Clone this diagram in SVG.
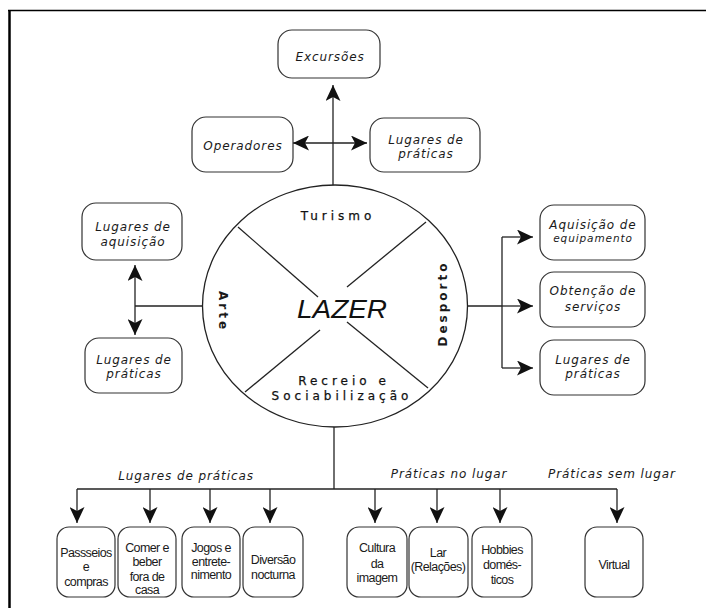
<svg xmlns="http://www.w3.org/2000/svg" width="706" height="608" viewBox="0 0 706 608">
  <style>
    .frame { stroke: #000; fill: none; }
    .box { fill: #fff; stroke: #333; stroke-width: 1.2; }
    .line { fill: none; stroke: #222; stroke-width: 1.3; }
    .it { font-family: "DejaVu Sans", Verdana, sans-serif; font-style: oblique; font-size: 12px; letter-spacing: 0.9px; fill: #1a1a1a; text-anchor: middle; }
    .sec { font-family: "DejaVu Sans", Verdana, sans-serif; font-size: 12px; letter-spacing: 4px; fill: #111; stroke: #111; stroke-width: 0.25; text-anchor: middle; }
    .secb { font-family: "DejaVu Sans", Verdana, sans-serif; font-weight: bold; font-size: 12px; letter-spacing: 3px; fill: #1a1a1a; text-anchor: middle; }
    .sm { font-family: "Liberation Sans", Arial, sans-serif; font-size: 12.5px; letter-spacing: -0.6px; fill: #1a1a1a; text-anchor: middle; }
    .core { font-family: "Liberation Sans", Arial, sans-serif; font-style: italic; font-size: 26px; fill: #111; text-anchor: middle; }
  </style>
  <defs>
    <marker id="arrow" markerUnits="userSpaceOnUse" markerWidth="17" markerHeight="15" refX="16" refY="7.5" orient="auto-start-reverse">
      <path d="M0,0 L16,7.5 L0,15 L4,7.5 Z" fill="#111"/>
    </marker>
  </defs>

  <rect width="706" height="608" fill="#fff"/>
  <!-- page frame -->
  <line class="frame" x1="8" y1="10.5" x2="706" y2="10.5" stroke-width="1.5"/>
  <line class="frame" x1="9.5" y1="10" x2="9.5" y2="608" stroke-width="2.5"/>

  <!-- central wheel -->
  <g id="lazer">
    <ellipse cx="335" cy="306" rx="132.5" ry="121" fill="#fff" stroke="#222" stroke-width="1.3"/>
    <line class="line" x1="238" y1="227" x2="318" y2="297"/>
    <line class="line" x1="426" y1="222" x2="347" y2="287"/>
    <line class="line" x1="245" y1="392" x2="320" y2="330"/>
    <line class="line" x1="428" y1="388" x2="347" y2="322"/>
    <text class="core" x="342" y="318" textLength="90" lengthAdjust="spacingAndGlyphs">LAZER</text>
    <text class="sec" x="338" y="220">Turismo</text>
    <text class="sec" x="344" y="385">Recreio e</text>
    <text class="sec" x="342" y="400">Sociabilização</text>
    <text class="secb" transform="translate(219,310) rotate(90)" x="1.5" y="0">Arte</text>
    <text class="secb" transform="translate(447,305) rotate(-90)" x="1.5" y="0">Desporto</text>
  </g>

  <!-- connectors -->
  <g id="connectors">
    <!-- Turismo -->
    <line class="line" x1="333" y1="185" x2="333" y2="85" marker-end="url(#arrow)"/>
    <line class="line" x1="293" y1="143" x2="367" y2="143" marker-start="url(#arrow)" marker-end="url(#arrow)"/>
    <!-- Arte -->
    <line class="line" x1="203" y1="306" x2="135" y2="306"/>
    <line class="line" x1="135" y1="265" x2="135" y2="335" marker-start="url(#arrow)" marker-end="url(#arrow)"/>
    <!-- Desporto -->
    <line class="line" x1="468" y1="306" x2="502" y2="306"/>
    <line class="line" x1="502" y1="237" x2="502" y2="368"/>
    <line class="line" x1="502" y1="237" x2="533" y2="237" marker-end="url(#arrow)"/>
    <line class="line" x1="502" y1="306" x2="533" y2="306" marker-end="url(#arrow)"/>
    <line class="line" x1="502" y1="368" x2="533" y2="368" marker-end="url(#arrow)"/>
    <!-- Recreio e Sociabilização -->
    <line class="line" x1="334" y1="427" x2="334" y2="489"/>
    <line class="line" x1="77" y1="489" x2="617" y2="489"/>
    <line class="line" x1="77" y1="489" x2="77" y2="523" marker-end="url(#arrow)"/>
    <line class="line" x1="150" y1="489" x2="150" y2="523" marker-end="url(#arrow)"/>
    <line class="line" x1="210" y1="489" x2="210" y2="523" marker-end="url(#arrow)"/>
    <line class="line" x1="270" y1="489" x2="270" y2="523" marker-end="url(#arrow)"/>
    <line class="line" x1="375" y1="489" x2="375" y2="523" marker-end="url(#arrow)"/>
    <line class="line" x1="437" y1="489" x2="437" y2="523" marker-end="url(#arrow)"/>
    <line class="line" x1="500" y1="489" x2="500" y2="523" marker-end="url(#arrow)"/>
    <line class="line" x1="617" y1="489" x2="617" y2="523" marker-end="url(#arrow)"/>
    <text class="it" x="186" y="480">Lugares de práticas</text>
    <text class="it" x="449" y="478">Práticas no lugar</text>
    <text class="it" x="612" y="478">Práticas sem lugar</text>
  </g>

  <!-- Turismo nodes -->
  <g id="excursoes">
    <rect class="box" x="278" y="30" width="102" height="48" rx="14"/>
    <text class="it" x="330" y="61">Excursões</text>
  </g>
  <g id="operadores">
    <rect class="box" x="192" y="117" width="101" height="55" rx="14"/>
    <text class="it" x="243" y="150">Operadores</text>
  </g>
  <g id="turismo-praticas">
    <rect class="box" x="370" y="118" width="110" height="54" rx="14"/>
    <text class="it" x="426" y="144">Lugares de</text>
    <text class="it" x="426" y="158">práticas</text>
  </g>

  <!-- Arte nodes -->
  <g id="arte-aquisicao">
    <rect class="box" x="82" y="203" width="100" height="57" rx="14"/>
    <text class="it" x="133" y="231">Lugares de</text>
    <text class="it" x="133" y="246">aquisição</text>
  </g>
  <g id="arte-praticas">
    <rect class="box" x="85" y="338" width="97" height="55" rx="14"/>
    <text class="it" x="134" y="364">Lugares de</text>
    <text class="it" x="134" y="378">práticas</text>
  </g>

  <!-- Desporto nodes -->
  <g id="equipamento">
    <rect class="box" x="540" y="205" width="105" height="55" rx="14"/>
    <text class="it" x="593" y="229">Aquisição de</text>
    <text class="it" x="593" y="242" style="font-size:10.5px">equipamento</text>
  </g>
  <g id="servicos">
    <rect class="box" x="540" y="272" width="105" height="55" rx="14"/>
    <text class="it" x="593" y="295">Obtenção de</text>
    <text class="it" x="593" y="311">serviços</text>
  </g>
  <g id="desporto-praticas">
    <rect class="box" x="540" y="340" width="105" height="55" rx="14"/>
    <text class="it" x="593" y="364">Lugares de</text>
    <text class="it" x="593" y="378">práticas</text>
  </g>

  <!-- Recreio e Sociabilização nodes -->
  <g id="passeios">
    <rect class="box" x="57" y="527" width="58" height="70" rx="12"/>
    <text class="sm" x="86" y="557">Passseios</text>
    <text class="sm" x="86" y="571">e</text>
    <text class="sm" x="86" y="586">compras</text>
  </g>
  <g id="comer">
    <rect class="box" x="118" y="527" width="58" height="70" rx="12"/>
    <text class="sm" x="147" y="552">Comer e</text>
    <text class="sm" x="147" y="566">beber</text>
    <text class="sm" x="147" y="581">fora de</text>
    <text class="sm" x="147" y="594">casa</text>
  </g>
  <g id="jogos">
    <rect class="box" x="182" y="527" width="58" height="70" rx="12"/>
    <text class="sm" x="211" y="552">Jogos e</text>
    <text class="sm" x="211" y="566">entrete-</text>
    <text class="sm" x="211" y="579">nimento</text>
  </g>
  <g id="diversao">
    <rect class="box" x="243" y="527" width="60" height="70" rx="12"/>
    <text class="sm" x="273" y="564">Diversão</text>
    <text class="sm" x="273" y="579">nocturna</text>
  </g>
  <g id="cultura">
    <rect class="box" x="347" y="527" width="60" height="70" rx="12"/>
    <text class="sm" x="377" y="552">Cultura</text>
    <text class="sm" x="377" y="568">da</text>
    <text class="sm" x="377" y="582">imagem</text>
  </g>
  <g id="lar">
    <rect class="box" x="409" y="527" width="59" height="70" rx="12"/>
    <text class="sm" x="438" y="557">Lar</text>
    <text class="sm" x="438" y="571">(Relações)</text>
  </g>
  <g id="hobbies">
    <rect class="box" x="472" y="527" width="60" height="70" rx="12"/>
    <text class="sm" x="502" y="554">Hobbies</text>
    <text class="sm" x="502" y="569">domés-</text>
    <text class="sm" x="502" y="584">ticos</text>
  </g>
  <g id="virtual">
    <rect class="box" x="585" y="527" width="58" height="70" rx="12"/>
    <text class="sm" x="614" y="569">Virtual</text>
  </g>
</svg>
